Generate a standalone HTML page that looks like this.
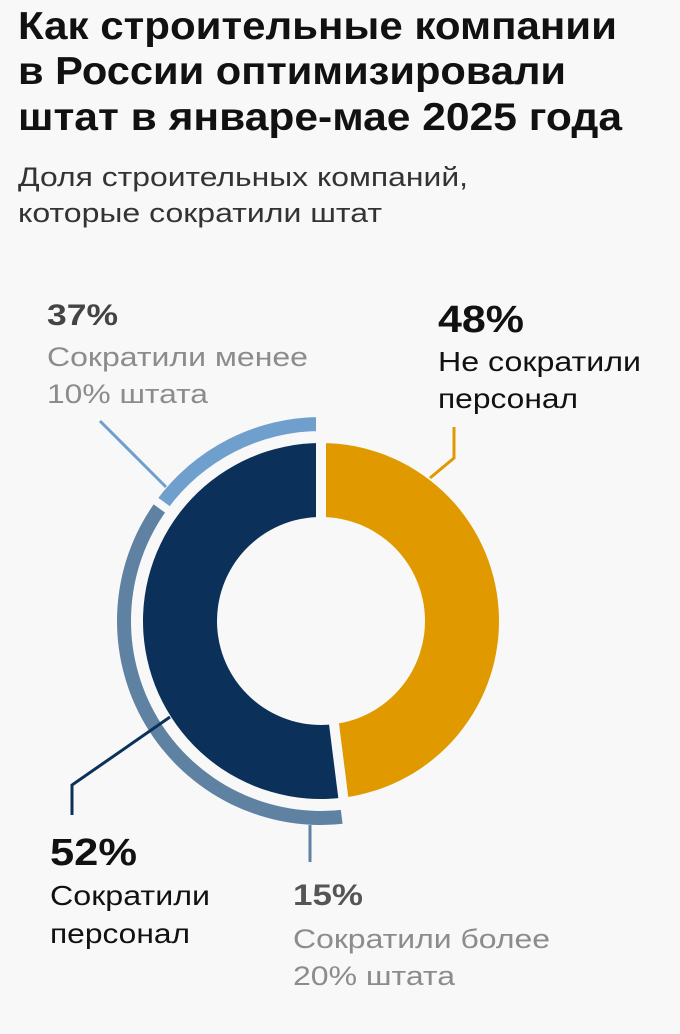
<!DOCTYPE html>
<html><head><meta charset="utf-8">
<style>
html,body{margin:0;padding:0;background:#f8f8f8;}
svg{display:block;font-family:"Liberation Sans","Noto Sans CJK SC",sans-serif;}
</style></head>
<body>
<svg width="680" height="1034" viewBox="0 0 680 1034">
<rect width="680" height="1034" fill="#f8f8f8"/>
<g font-weight="bold" font-size="39" fill="#111">
<text x="18" y="39" textLength="599" lengthAdjust="spacingAndGlyphs">Как строительные компании</text>
<text x="18" y="84" textLength="548" lengthAdjust="spacingAndGlyphs">в России оптимизировали</text>
<text x="18" y="130" textLength="604" lengthAdjust="spacingAndGlyphs">штат в январе-мае 2025 года</text>
</g>
<g font-size="27" fill="#333">
<text x="18" y="186" textLength="450" lengthAdjust="spacingAndGlyphs">Доля строительных компаний,</text>
<text x="18" y="222" textLength="364" lengthAdjust="spacingAndGlyphs">которые сократили штат</text>
</g>
<g id="donut"></g>
<g fill="none" stroke-width="3">
<polyline points="100,421 166,487" stroke="#6f9fcc"/>
<polyline points="454,427 454,458 430,478" stroke="#e09a00"/>
<polyline points="170,717 72,785 72,815" stroke="#0b3059"/>
<polyline points="310,825 310,862" stroke="#5f82a3"/>
</g>
<g>
<text x="47" y="325" font-size="30" font-weight="bold" fill="#444" textLength="71" lengthAdjust="spacingAndGlyphs">37%</text>
<text x="47" y="366" font-size="27" fill="#8c8c8c" textLength="261" lengthAdjust="spacingAndGlyphs">Сократили менее</text>
<text x="47" y="403" font-size="27" fill="#8c8c8c" textLength="161" lengthAdjust="spacingAndGlyphs">10% штата</text>
</g>
<g>
<text x="438" y="332" font-size="38" font-weight="bold" fill="#111" textLength="86" lengthAdjust="spacingAndGlyphs">48%</text>
<text x="438" y="371" font-size="28" fill="#111" textLength="203" lengthAdjust="spacingAndGlyphs">Не сократили</text>
<text x="438" y="408" font-size="28" fill="#111" textLength="140" lengthAdjust="spacingAndGlyphs">персонал</text>
</g>
<g>
<text x="50" y="865" font-size="38" font-weight="bold" fill="#111" textLength="87" lengthAdjust="spacingAndGlyphs">52%</text>
<text x="50" y="905" font-size="28" fill="#111" textLength="160" lengthAdjust="spacingAndGlyphs">Сократили</text>
<text x="50" y="943" font-size="28" fill="#111" textLength="140" lengthAdjust="spacingAndGlyphs">персонал</text>
</g>
<g>
<text x="293" y="905" font-size="30" font-weight="bold" fill="#555" textLength="70" lengthAdjust="spacingAndGlyphs">15%</text>
<text x="293" y="948" font-size="27" fill="#8c8c8c" textLength="257" lengthAdjust="spacingAndGlyphs">Сократили более</text>
<text x="293" y="985" font-size="27" fill="#8c8c8c" textLength="162" lengthAdjust="spacingAndGlyphs">20% штата</text>
</g>
</svg>
<script>
const innerLabels = ["Не сократили персонал", "Сократили персонал"];
const innerValues = [48, 52];
const innerColors = ["#e09a00", "#0b3059"];
const outerLabels = ["Сократили более 20% штата", "Сократили менее 10% штата"];
const outerValues = [37, 15];
const outerColors = ["#5f82a3", "#6f9fcc"];

const NS = "http://www.w3.org/2000/svg";
const cx = 321, cy = 621;
const g = document.getElementById("donut");
function ang(p){ return p / 100 * 2 * Math.PI; }
function pt(a, r){ return [cx + r * Math.sin(a), cy - r * Math.cos(a)]; }
function arc(a0, a1, r0, r1){
  const large = (a1 - a0) > Math.PI ? 1 : 0;
  const [x0,y0] = pt(a0, r1), [x1,y1] = pt(a1, r1), [x2,y2] = pt(a1, r0), [x3,y3] = pt(a0, r0);
  return `M${x0},${y0} A${r1},${r1} 0 ${large} 1 ${x1},${y1} L${x2},${y2} A${r0},${r0} 0 ${large} 0 ${x3},${y3} Z`;
}
function sep(a, r0, r1, w){
  const [x0,y0] = pt(a, r0), [x1,y1] = pt(a, r1);
  const l = document.createElementNS(NS, "line");
  l.setAttribute("x1", x0); l.setAttribute("y1", y0); l.setAttribute("x2", x1); l.setAttribute("y2", y1);
  l.setAttribute("stroke", "#f8f8f8"); l.setAttribute("stroke-width", w);
  
  
  g.appendChild(l);
}
let acc = 0;
innerValues.forEach((v, i) => {
  const p = document.createElementNS(NS, "path");
  p.setAttribute("d", arc(ang(acc), ang(acc + v), 104, 178));
  p.setAttribute("fill", innerColors[i]);
  
  
  g.appendChild(p);
  acc += v;
});
let acc2 = innerValues[0];
outerValues.forEach((v, i) => {
  const p = document.createElementNS(NS, "path");
  p.setAttribute("d", arc(ang(acc2), ang(acc2 + v), 190, 204));
  p.setAttribute("fill", outerColors[i]);
  
  
  g.appendChild(p);
  acc2 += v;
});
let a = 0;
innerValues.forEach(v => { sep(ang(a), 95, 180, 10); a += v; });
let b = innerValues[0];
outerValues.forEach(v => { sep(ang(b), 186, 210, 8); b += v; });
sep(0, 186, 210, 10);
</script>
</body></html>
